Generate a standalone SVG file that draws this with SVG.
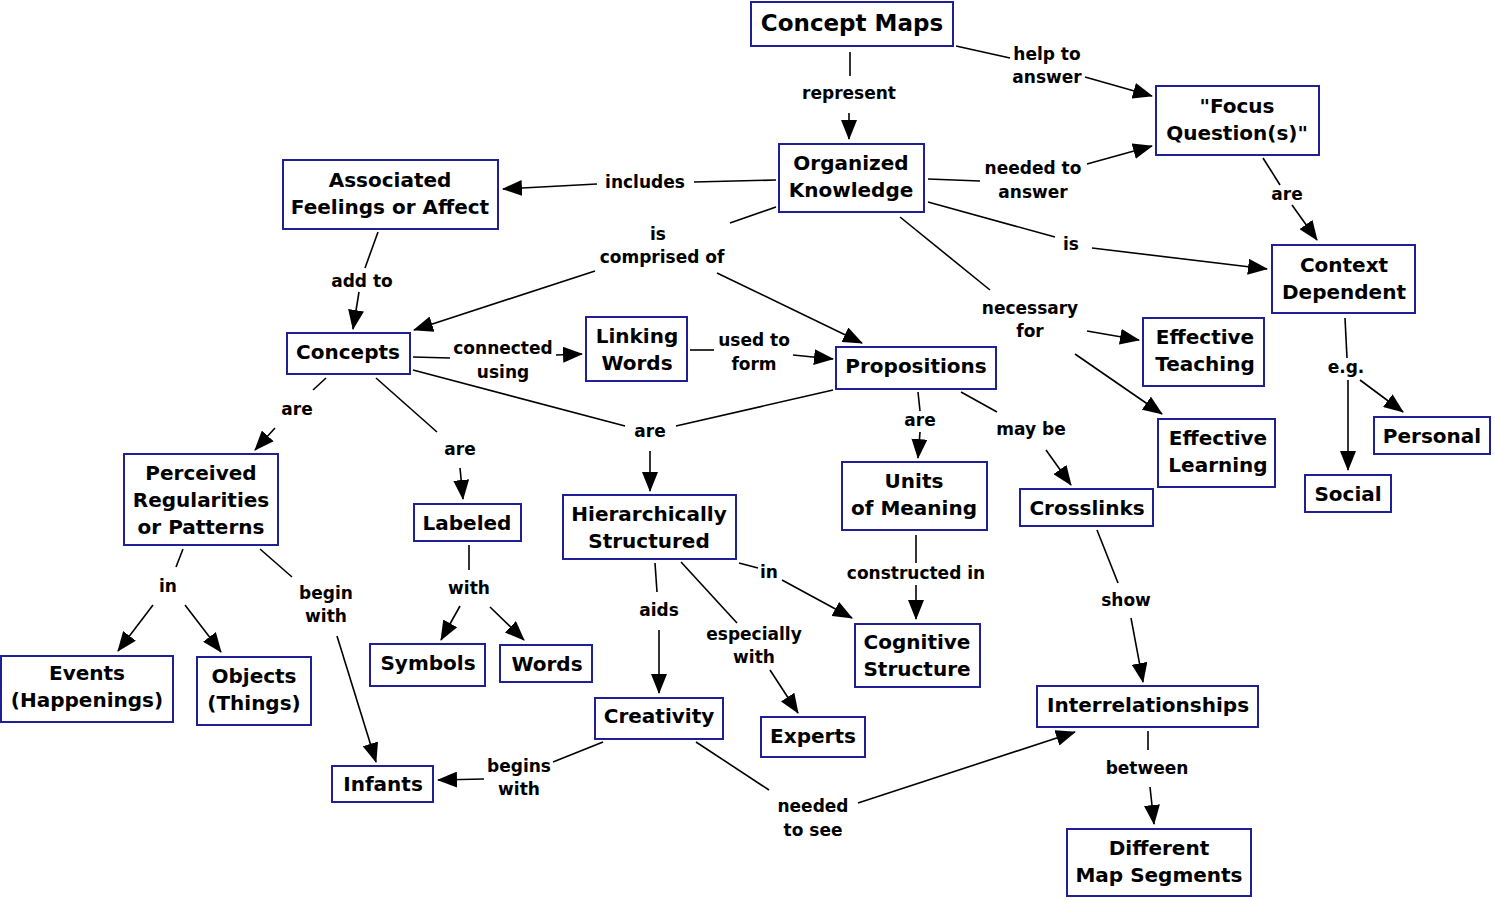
<svg xmlns="http://www.w3.org/2000/svg" width="1495" height="900" viewBox="0 0 1495 900">
<style>
.box{fill:#fff;stroke:#1f1f96;stroke-width:2}
.nt{font-family:"DejaVu Sans",Verdana,sans-serif;font-weight:bold;font-size:20px;fill:#000;text-anchor:middle;dominant-baseline:central}
.big{font-size:23px}
.lt{font-family:"DejaVu Sans",Verdana,sans-serif;font-weight:bold;font-size:17px;fill:#000;text-anchor:middle;dominant-baseline:central}
.ln{stroke:#000;stroke-width:1.6;fill:none}
.ar{stroke:#000;stroke-width:1.6;fill:none;marker-end:url(#ah)}
</style>
<defs>
<marker id="ah" viewBox="0 0 20 16" refX="19" refY="8" markerWidth="20" markerHeight="16" markerUnits="userSpaceOnUse" orient="auto"><path d="M0,0 L20,8 L0,16 z" fill="#000"/></marker>
</defs>
<rect width="1495" height="900" fill="#fff"/>
<g id="connectors">
<line class="ln" x1="850" y1="52" x2="850" y2="76"/><line class="ar" x1="849" y1="113" x2="849" y2="139"/>
<line class="ln" x1="956" y1="46" x2="1010" y2="58"/><line class="ar" x1="1085" y1="77" x2="1152" y2="96"/>
<line class="ln" x1="928" y1="179" x2="980" y2="181"/><line class="ar" x1="1087" y1="164" x2="1152" y2="146"/>
<line class="ln" x1="776" y1="180" x2="694" y2="182"/><line class="ar" x1="597" y1="184" x2="503" y2="189"/>
<line class="ln" x1="776" y1="207" x2="730" y2="223"/><line class="ar" x1="595" y1="271" x2="414" y2="330"/><line class="ar" x1="717" y1="273" x2="862" y2="343"/>
<line class="ln" x1="928" y1="202" x2="1055" y2="237"/><line class="ar" x1="1092" y1="248" x2="1267" y2="269"/>
<line class="ln" x1="900" y1="217" x2="990" y2="290"/><line class="ar" x1="1087" y1="331" x2="1139" y2="340"/><line class="ar" x1="1075" y1="354" x2="1162" y2="414"/>
<line class="ln" x1="1263" y1="158" x2="1280" y2="185"/><line class="ar" x1="1292" y1="205" x2="1317" y2="240"/>
<line class="ln" x1="1345" y1="318" x2="1347" y2="358"/><line class="ar" x1="1348" y1="380" x2="1348" y2="470"/><line class="ar" x1="1360" y1="380" x2="1403" y2="412"/>
<line class="ln" x1="378" y1="232" x2="365" y2="268"/><line class="ar" x1="359" y1="292" x2="353" y2="329"/>
<line class="ln" x1="413" y1="357" x2="450" y2="358"/><line class="ar" x1="556" y1="355" x2="582" y2="354"/>
<line class="ln" x1="690" y1="350" x2="714" y2="350"/><line class="ar" x1="793" y1="355" x2="833" y2="359"/>
<line class="ln" x1="326" y1="378" x2="313" y2="390"/><line class="ar" x1="275" y1="428" x2="255" y2="450"/>
<line class="ln" x1="376" y1="378" x2="437" y2="432"/><line class="ar" x1="460" y1="468" x2="463" y2="499"/>
<line class="ln" x1="413" y1="370" x2="625" y2="426"/><line class="ln" x1="833" y1="390" x2="676" y2="426"/><line class="ar" x1="650" y1="451" x2="650" y2="491"/>
<line class="ln" x1="918" y1="392" x2="920" y2="411"/><line class="ar" x1="920" y1="432" x2="918" y2="458"/>
<line class="ln" x1="961" y1="392" x2="997" y2="412"/><line class="ar" x1="1046" y1="450" x2="1071" y2="485"/>
<line class="ln" x1="183" y1="549" x2="176" y2="567"/><line class="ar" x1="153" y1="605" x2="118" y2="651"/><line class="ar" x1="185" y1="605" x2="221" y2="652"/>
<line class="ln" x1="260" y1="549" x2="292" y2="577"/><line class="ar" x1="337" y1="636" x2="376" y2="762"/>
<line class="ln" x1="469" y1="545" x2="469" y2="570"/><line class="ar" x1="460" y1="606" x2="441" y2="640"/><line class="ar" x1="490" y1="607" x2="524" y2="640"/>
<line class="ln" x1="655" y1="563" x2="657" y2="592"/><line class="ar" x1="659" y1="630" x2="659" y2="693"/>
<line class="ln" x1="681" y1="562" x2="737" y2="623"/><line class="ar" x1="770" y1="670" x2="798" y2="713"/>
<line class="ln" x1="739" y1="563" x2="758" y2="568"/><line class="ar" x1="782" y1="580" x2="852" y2="618"/>
<line class="ln" x1="916" y1="535" x2="916" y2="563"/><line class="ar" x1="916" y1="585" x2="916" y2="619"/>
<line class="ln" x1="1097" y1="530" x2="1118" y2="583"/><line class="ar" x1="1131" y1="618" x2="1143" y2="682"/>
<line class="ln" x1="1148" y1="731" x2="1148" y2="750"/><line class="ar" x1="1150" y1="787" x2="1154" y2="824"/>
<line class="ln" x1="603" y1="742" x2="553" y2="762"/><line class="ar" x1="484" y1="779" x2="438" y2="780"/>
<line class="ln" x1="696" y1="742" x2="769" y2="790"/><line class="ar" x1="858" y1="803" x2="1075" y2="732"/>
</g>
<g id="labels">
<text class="lt" x="849" y="93">represent</text>
<text class="lt" x="1047" y="54">help to</text><text class="lt" x="1047" y="77">answer</text>
<text class="lt" x="1033" y="168">needed to</text><text class="lt" x="1033" y="192">answer</text>
<text class="lt" x="645" y="182">includes</text>
<text class="lt" x="658" y="234">is</text><text class="lt" x="662" y="257">comprised of</text>
<text class="lt" x="1071" y="244">is</text>
<text class="lt" x="1030" y="308">necessary</text><text class="lt" x="1030" y="331">for</text>
<text class="lt" x="1287" y="194">are</text>
<text class="lt" x="1346" y="367">e.g.</text>
<text class="lt" x="362" y="281">add to</text>
<text class="lt" x="503" y="348">connected</text><text class="lt" x="503" y="372">using</text>
<text class="lt" x="754" y="340">used to</text><text class="lt" x="754" y="364">form</text>
<text class="lt" x="297" y="409">are</text>
<text class="lt" x="460" y="449">are</text>
<text class="lt" x="650" y="431">are</text>
<text class="lt" x="920" y="420">are</text>
<text class="lt" x="1031" y="429">may be</text>
<text class="lt" x="168" y="586">in</text>
<text class="lt" x="326" y="593">begin</text><text class="lt" x="326" y="616">with</text>
<text class="lt" x="469" y="588">with</text>
<text class="lt" x="659" y="610">aids</text>
<text class="lt" x="754" y="634">especially</text><text class="lt" x="754" y="657">with</text>
<text class="lt" x="769" y="572">in</text>
<text class="lt" x="916" y="573">constructed in</text>
<text class="lt" x="1126" y="600">show</text>
<text class="lt" x="1147" y="768">between</text>
<text class="lt" x="519" y="766">begins</text><text class="lt" x="519" y="789">with</text>
<text class="lt" x="813" y="806">needed</text><text class="lt" x="813" y="830">to see</text>
</g>
<g id="n-conceptmaps"><rect class="box" x="751" y="2" width="202" height="44"/><text class="nt big" x="852" y="23">Concept Maps</text></g>
<g id="n-focus"><rect class="box" x="1156" y="86" width="163" height="69"/><text class="nt" x="1237" y="106">"Focus</text><text class="nt" x="1237" y="133">Question(s)"</text></g>
<g id="n-organized"><rect class="box" x="779" y="144" width="145" height="68"/><text class="nt" x="851" y="163">Organized</text><text class="nt" x="851" y="190">Knowledge</text></g>
<g id="n-associated"><rect class="box" x="283" y="160" width="215" height="69"/><text class="nt" x="390" y="180">Associated</text><text class="nt" x="390" y="207">Feelings or Affect</text></g>
<g id="n-context"><rect class="box" x="1272" y="245" width="143" height="68"/><text class="nt" x="1344" y="265">Context</text><text class="nt" x="1344" y="292">Dependent</text></g>
<g id="n-concepts"><rect class="box" x="287" y="333" width="123" height="41"/><text class="nt" x="348" y="352">Concepts</text></g>
<g id="n-linking"><rect class="box" x="586" y="317" width="101" height="64"/><text class="nt" x="637" y="336">Linking</text><text class="nt" x="637" y="363">Words</text></g>
<g id="n-propositions"><rect class="box" x="836" y="347" width="160" height="42"/><text class="nt" x="916" y="366">Propositions</text></g>
<g id="n-teaching"><rect class="box" x="1143" y="318" width="121" height="68"/><text class="nt" x="1205" y="337">Effective</text><text class="nt" x="1205" y="364">Teaching</text></g>
<g id="n-learning"><rect class="box" x="1158" y="419" width="117" height="68"/><text class="nt" x="1218" y="438">Effective</text><text class="nt" x="1218" y="465">Learning</text></g>
<g id="n-personal"><rect class="box" x="1374" y="417" width="116" height="37"/><text class="nt" x="1432" y="436">Personal</text></g>
<g id="n-social"><rect class="box" x="1305" y="475" width="86" height="37"/><text class="nt" x="1348" y="494">Social</text></g>
<g id="n-perceived"><rect class="box" x="124" y="454" width="154" height="91"/><text class="nt" x="201" y="473">Perceived</text><text class="nt" x="201" y="500">Regularities</text><text class="nt" x="201" y="527">or Patterns</text></g>
<g id="n-labeled"><rect class="box" x="414" y="504" width="107" height="37"/><text class="nt" x="467" y="523">Labeled</text></g>
<g id="n-hierarchically"><rect class="box" x="563" y="495" width="173" height="64"/><text class="nt" x="649" y="514">Hierarchically</text><text class="nt" x="649" y="541">Structured</text></g>
<g id="n-units"><rect class="box" x="842" y="462" width="145" height="68"/><text class="nt" x="914" y="481">Units</text><text class="nt" x="914" y="508">of Meaning</text></g>
<g id="n-crosslinks"><rect class="box" x="1020" y="489" width="133" height="37"/><text class="nt" x="1087" y="508">Crosslinks</text></g>
<g id="n-events"><rect class="box" x="1" y="656" width="172" height="66"/><text class="nt" x="87" y="673">Events</text><text class="nt" x="87" y="700">(Happenings)</text></g>
<g id="n-objects"><rect class="box" x="197" y="657" width="114" height="68"/><text class="nt" x="254" y="676">Objects</text><text class="nt" x="254" y="703">(Things)</text></g>
<g id="n-symbols"><rect class="box" x="370" y="644" width="115" height="42"/><text class="nt" x="428" y="663">Symbols</text></g>
<g id="n-words"><rect class="box" x="500" y="645" width="92" height="37"/><text class="nt" x="547" y="664">Words</text></g>
<g id="n-cognitive"><rect class="box" x="855" y="624" width="125" height="63"/><text class="nt" x="917" y="642">Cognitive</text><text class="nt" x="917" y="669">Structure</text></g>
<g id="n-creativity"><rect class="box" x="595" y="698" width="128" height="41"/><text class="nt" x="659" y="716">Creativity</text></g>
<g id="n-experts"><rect class="box" x="761" y="717" width="104" height="40"/><text class="nt" x="813" y="736">Experts</text></g>
<g id="n-interrelationships"><rect class="box" x="1037" y="686" width="221" height="41"/><text class="nt" x="1148" y="705">Interrelationships</text></g>
<g id="n-infants"><rect class="box" x="332" y="766" width="101" height="36"/><text class="nt" x="383" y="784">Infants</text></g>
<g id="n-segments"><rect class="box" x="1067" y="829" width="184" height="67"/><text class="nt" x="1159" y="848">Different</text><text class="nt" x="1159" y="875">Map Segments</text></g>
</svg>
